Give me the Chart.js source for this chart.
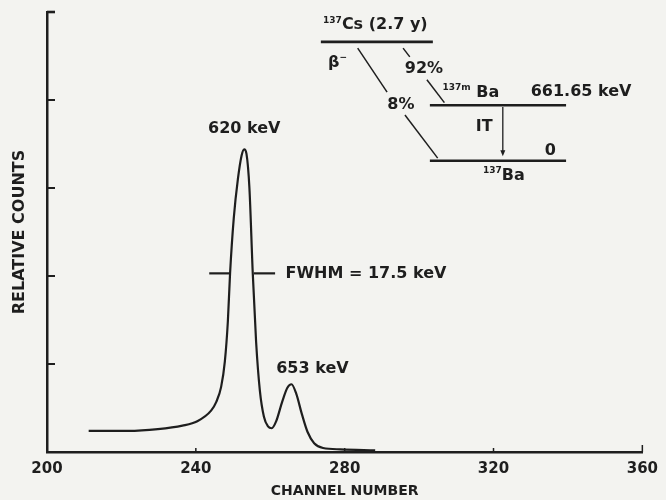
<!DOCTYPE html>
<html><head><meta charset="utf-8">
<script src="https://cdn.jsdelivr.net/npm/chart.js@4"></script>
<style>html,body{margin:0;padding:0;background:#f3f3f0;}#wrap{width:666px;height:500px;position:relative;}</style>
</head><body><div id="wrap"><canvas id="c" width="666" height="500"></canvas></div>
<script>
// ---- data ----
const channels = [211.2, 221.8, 229.8, 236.4, 240.4, 244.1, 245.5, 246.8, 247.8, 248.6, 249.2, 250.2, 251.3, 252.3, 253.0, 253.6, 254.4, 255.3, 256.2, 257.2, 258.3, 259.4, 260.4, 261.6, 263.2, 264.6, 265.7, 267.0, 268.5, 270.0, 271.8, 274.2, 278.9, 288.2];
const counts   = [0.24, 0.24, 0.26, 0.30, 0.35, 0.47, 0.57, 0.74, 1.03, 1.48, 2.03, 2.66, 3.10, 3.37, 3.44, 3.39, 3.00, 2.03, 1.25, 0.70, 0.40, 0.29, 0.27, 0.35, 0.57, 0.73, 0.77, 0.66, 0.43, 0.23, 0.10, 0.045, 0.03, 0.02];
const xTicks = [200, 240, 280, 320, 360];
const yTicks = [0, 1, 2, 3, 4, 5];
const xTitle = 'CHANNEL NUMBER';
const yTitle = 'RELATIVE COUNTS';
const peakNames = ['620 keV', '653 keV'];
const peakLabelX = [253.0, 261.6];
const peakLabelY = [3.67, 0.95];
const peakLabelAlign = ['center', 'left'];
const fwhmLevel = 2.03;
const fwhmLeft = [243.6, 249.0];
const fwhmRight = [255.6, 261.3];
const fwhmText = 'FWHM = 17.5 keV';
const fwhmTextX = 264.1;
// decay scheme inset (in channel / relative-count units)
const decayLevels = [[273.6, 303.7, 4.66], [302.9, 339.5, 3.94], [302.9, 339.5, 3.31]];
const decayLines = [[283.5, 4.59, 291.4, 4.09], [296.2, 3.83, 305.0, 3.34], [295.7, 4.59, 297.5, 4.49], [302.1, 4.23, 306.8, 3.97]];
const decayArrow = [322.5, 3.92, 322.5, 3.36];
const decayTexts = [
  {x: 274.2, y: 4.85, align: 'left',   parts: [['137', 1], ['Cs (2.7 y)', 0]]},
  {x: 275.5, y: 4.42, align: 'left',   parts: [['\u03B2', 0], ['\u2212', 1]]},
  {x: 301.3, y: 4.35, align: 'center', parts: [['92%', 0]]},
  {x: 295.1, y: 3.94, align: 'center', parts: [['8%', 0]]},
  {x: 306.3, y: 4.08, align: 'left',   parts: [['137m', 1], [' Ba', 0]]},
  {x: 330.0, y: 4.09, align: 'left',   parts: [['661.65 keV', 0]]},
  {x: 317.5, y: 3.69, align: 'center', parts: [['IT', 0]]},
  {x: 335.3, y: 3.42, align: 'center', parts: [['0', 0]]},
  {x: 322.8, y: 3.14, align: 'center', parts: [['137', 1], ['Ba', 0]]}
];

const INK = '#1e1e1e';
const BG = '#f3f3f0';
const FAM = '"DejaVu Sans", sans-serif';
const MAIN = 'bold 16px ' + FAM;
const SUP = 'bold 9px ' + FAM;

function drawParts(ctx, parts, px, py, align) {
  let w = 0;
  parts.forEach(p => { ctx.font = p[1] ? SUP : MAIN; w += ctx.measureText(p[0]).width; });
  let cx = align === 'center' ? px - w / 2 : px;
  ctx.textAlign = 'left';
  ctx.textBaseline = 'middle';
  parts.forEach(p => {
    ctx.font = p[1] ? SUP : MAIN;
    ctx.fillText(p[0], cx, p[1] ? py - 5 : py);
    cx += ctx.measureText(p[0]).width;
  });
}

const annot = {
  id: 'annot',
  beforeDraw(chart) {
    const c = chart.ctx;
    c.save(); c.fillStyle = BG; c.fillRect(0, 0, chart.width, chart.height); c.restore();
  },
  afterDatasetsDraw(chart) {
    const {ctx, scales: {x, y}} = chart;
    const X = v => x.getPixelForValue(v), Y = v => y.getPixelForValue(v);
    const seg = (x1, y1, x2, y2, w) => { ctx.lineWidth = w; ctx.beginPath(); ctx.moveTo(x1, y1); ctx.lineTo(x2, y2); ctx.stroke(); };
    ctx.save();
    ctx.strokeStyle = INK; ctx.fillStyle = INK; ctx.lineCap = 'butt';
    // inner ticks
    yTicks.forEach(t => { if (t > 0) seg(x.left, Y(t), x.left + 8, Y(t), t === 5 ? 2.6 : 2); });
    xTicks.forEach(t => { if (t > 200) seg(X(t), y.bottom, X(t), y.bottom - (t === 360 ? 7 : 4), 1.5); });
    // FWHM marker
    seg(X(fwhmLeft[0]), Y(fwhmLevel), X(fwhmLeft[1]), Y(fwhmLevel), 2.2);
    seg(X(fwhmRight[0]), Y(fwhmLevel), X(fwhmRight[1]), Y(fwhmLevel), 2.2);
    drawParts(ctx, [[fwhmText, 0]], X(fwhmTextX), Y(fwhmLevel), 'left');
    // peak labels
    peakNames.forEach((n, i) => drawParts(ctx, [[n, 0]], X(peakLabelX[i]), Y(peakLabelY[i]), peakLabelAlign[i]));
    // decay scheme
    decayLevels.forEach(l => seg(X(l[0]), Y(l[2]), X(l[1]), Y(l[2]), 2.6));
    decayLines.forEach(l => seg(X(l[0]), Y(l[1]), X(l[2]), Y(l[3]), 1.5));
    const ax = X(decayArrow[0]), ay1 = Y(decayArrow[1]), ay2 = Y(decayArrow[3]);
    seg(ax, ay1, ax, ay2 - 4, 1.3);
    ctx.beginPath(); ctx.moveTo(ax, ay2); ctx.lineTo(ax - 2.5, ay2 - 6); ctx.lineTo(ax + 2.5, ay2 - 6); ctx.closePath(); ctx.fill();
    decayTexts.forEach(t => drawParts(ctx, t.parts, X(t.x), Y(t.y), t.align));
    ctx.restore();
  }
};

new Chart(document.getElementById('c'), {
  type: 'line',
  data: {
    datasets: [{
      data: channels.map((c, i) => ({x: c, y: counts[i]})),
      borderColor: INK, borderWidth: 2.2, pointRadius: 0,
      cubicInterpolationMode: 'monotone', fill: false
    }]
  },
  options: {
    responsive: false, animation: false,
    layout: {padding: {top: 12, right: 16, left: 0, bottom: 0}},
    plugins: {legend: {display: false}, tooltip: {enabled: false}},
    scales: {
      x: {
        type: 'linear', min: 200, max: 360,
        afterBuildTicks: s => { s.ticks = xTicks.map(v => ({value: v})); },
        afterFit: s => { s.height = 48; },
        grid: {display: false, drawTicks: false},
        border: {display: true, color: INK, width: 2.5},
        ticks: {color: INK, font: {family: FAM, weight: 'bold', size: 15}, padding: 8, maxRotation: 0},
        title: {display: true, text: xTitle, color: INK, font: {family: FAM, weight: 'bold', size: 14}, padding: {top: 0, bottom: 0}}
      },
      y: {
        type: 'linear', min: 0, max: 5,
        afterBuildTicks: s => { s.ticks = yTicks.map(v => ({value: v})); },
        afterFit: s => { s.width = 47; },
        grid: {display: false, drawTicks: false},
        border: {display: true, color: INK, width: 2.5},
        ticks: {display: false},
        title: {display: true, text: yTitle, color: INK, font: {family: FAM, weight: 'bold', size: 16}, padding: {top: 10, bottom: 0}}
      }
    }
  },
  plugins: [annot]
});
</script>
</body></html>
